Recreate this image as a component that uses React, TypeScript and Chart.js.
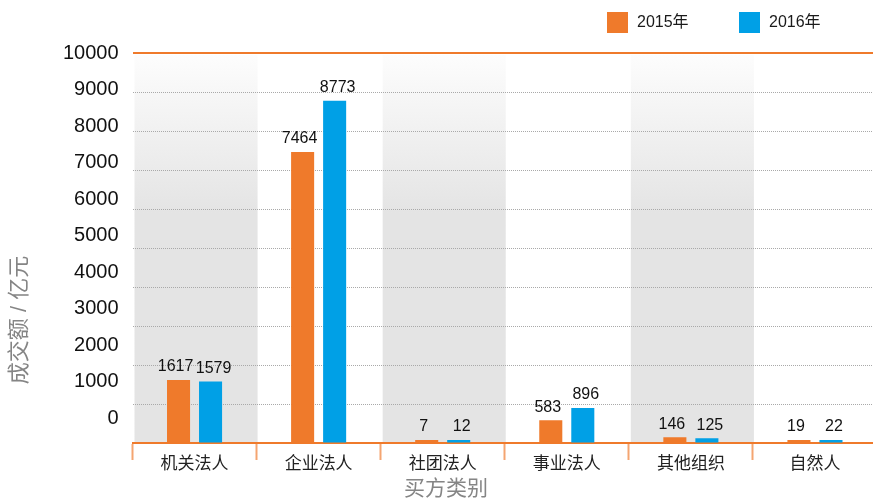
import React, { useEffect, useRef } from 'react';
import { Chart, registerables } from 'chart.js';

Chart.register(...registerables);

const categories = ['机关法人', '企业法人', '社团法人', '事业法人', '其他组织', '自然人'];
const seriesNames = ['2015年', '2016年'];
const values2015 = [1617, 7464, 7, 583, 146, 19];
const values2016 = [1579, 8773, 12, 896, 125, 22];
const yTickValues = [0, 1000, 2000, 3000, 4000, 5000, 6000, 7000, 8000, 9000, 10000];
const yAxisTitle = '成交额 / 亿元';
const xAxisTitle = '买方类别';

const ORANGE = '#ef7a2b';
const BLUE = '#00a0e6';
const FONT = "'Liberation Sans', 'Noto Sans CJK SC', Arial, sans-serif";

const bandPlugin = {
  id: 'bands',
  beforeDraw(chart: any) {
    const ctx = chart.ctx;
    const { top, bottom } = chart.chartArea;
    const x = chart.scales.x;
    const half = (x.getPixelForValue(1) - x.getPixelForValue(0)) / 2;
    ctx.save();
    for (let i = 0; i < categories.length; i += 2) {
      const c = x.getPixelForValue(i);
      const g = ctx.createLinearGradient(0, top, 0, top + 160);
      g.addColorStop(0, '#fdfdfd');
      g.addColorStop(1, '#e4e4e4');
      ctx.fillStyle = g;
      ctx.fillRect(c - half + 2, top + 2, half * 2 - 1, bottom - top - 2);
    }
    ctx.restore();
  },
};

const valueLabelPlugin = {
  id: 'valueLabels',
  afterDatasetsDraw(chart: any) {
    const ctx = chart.ctx;
    ctx.save();
    ctx.font = `16px ${FONT}`;
    ctx.fillStyle = '#111111';
    ctx.textAlign = 'center';
    ctx.textBaseline = 'bottom';
    chart.data.datasets.forEach((ds: any, di: number) => {
      const meta = chart.getDatasetMeta(di);
      const shift = di === 0 ? -3 : 3;
      meta.data.forEach((bar: any, i: number) => {
        ctx.fillText(String(ds.data[i]), bar.x + shift, bar.y - 5);
      });
    });
    ctx.restore();
  },
};

const decorPlugin = {
  id: 'decor',
  afterDraw(chart: any) {
    const ctx = chart.ctx;
    ctx.save();
    // legend
    const legendX = [607, 739];
    chart.data.datasets.forEach((ds: any, i: number) => {
      ctx.fillStyle = ds.backgroundColor;
      ctx.fillRect(legendX[i], 12, 21, 21);
      ctx.fillStyle = '#1a1a1a';
      ctx.font = `16px ${FONT}`;
      ctx.textAlign = 'left';
      ctx.textBaseline = 'middle';
      ctx.fillText(ds.label, legendX[i] + 30, 23);
    });
    // axis titles
    ctx.fillStyle = '#858585';
    ctx.font = `22px ${FONT}`;
    ctx.textAlign = 'center';
    ctx.textBaseline = 'middle';
    ctx.save();
    ctx.translate(20, 320);
    ctx.rotate(-Math.PI / 2);
    ctx.fillText(yAxisTitle, 0, 0);
    ctx.restore();
    ctx.font = `21px ${FONT}`;
    ctx.fillText(xAxisTitle, 446, 489);
    ctx.restore();
  },
};

export default function App() {
  const ref = useRef<HTMLCanvasElement>(null);

  useEffect(() => {
    document.body.style.margin = '0';
    const canvas = ref.current!;
    const chart = new Chart(canvas, {
      type: 'bar',
      data: {
        labels: categories,
        datasets: [
          {
            label: seriesNames[0],
            data: values2015,
            backgroundColor: ORANGE,
            categoryPercentage: 0.516,
            barPercentage: 0.72,
            minBarLength: 3,
            yAxisID: 'y',
          },
          {
            label: seriesNames[1],
            data: values2016,
            backgroundColor: BLUE,
            categoryPercentage: 0.516,
            barPercentage: 0.72,
            minBarLength: 3,
            yAxisID: 'y',
          },
        ],
      },
      options: {
        responsive: false,
        animation: false,
        layout: { padding: { left: 0, right: 5, top: 53, bottom: 0 } },
        plugins: {
          legend: { display: false },
          tooltip: { enabled: false },
        },
        scales: {
          x: {
            type: 'category',
            offset: true,
            grid: {
              display: true,
              drawOnChartArea: false,
              drawTicks: true,
              tickLength: 17,
              tickColor: '#f4a571',
              tickWidth: 2,
              offset: true,
            },
            border: { display: true, color: ORANGE, width: 2 },
            ticks: {
              font: { family: FONT, size: 17 },
              color: '#222222',
              padding: -6,
              maxRotation: 0,
              autoSkip: false,
            },
            afterFit(s: any) {
              s.height = 58;
            },
          },
          y: {
            position: 'left',
            min: 0,
            max: 10000,
            ticks: { stepSize: 1000, display: false },
            grid: {
              drawTicks: false,
              color: (c: any) =>
                c.tick && c.tick.value === 10000 ? ORANGE : c.tick && c.tick.value === 0 ? 'rgba(0,0,0,0)' : '#a9a9a9',
              lineWidth: (c: any) => (c.tick && c.tick.value === 10000 ? 2 : 1),
            },
            border: {
              display: false,
              dash: (c: any) => (c.tick && c.tick.value === 10000 ? [] : [1, 1]),
            },
            afterFit(s: any) {
              s.width = 0;
            },
          },
          y2: {
            position: 'left',
            min: -685,
            max: 10000,
            afterBuildTicks(s: any) {
              s.ticks = yTickValues.map((v) => ({ value: v }));
            },
            ticks: {
              font: { family: FONT, size: 20 },
              color: '#111111',
              padding: 14,
              callback: (v: any) => String(v),
            },
            grid: { display: false, drawTicks: false },
            border: { display: false },
            afterFit(s: any) {
              s.width = 132.5;
            },
          },
        },
      },
      plugins: [bandPlugin, valueLabelPlugin, decorPlugin],
    } as any);
    return () => chart.destroy();
  }, []);

  return (
    <div
      style={{
        position: 'fixed',
        left: 0,
        top: 0,
        width: 873,
        height: 501,
        overflow: 'hidden',
        background: '#ffffff',
      }}
    >
      <canvas ref={ref} width={882} height={501} style={{ display: 'block' }} />
    </div>
  );
}
